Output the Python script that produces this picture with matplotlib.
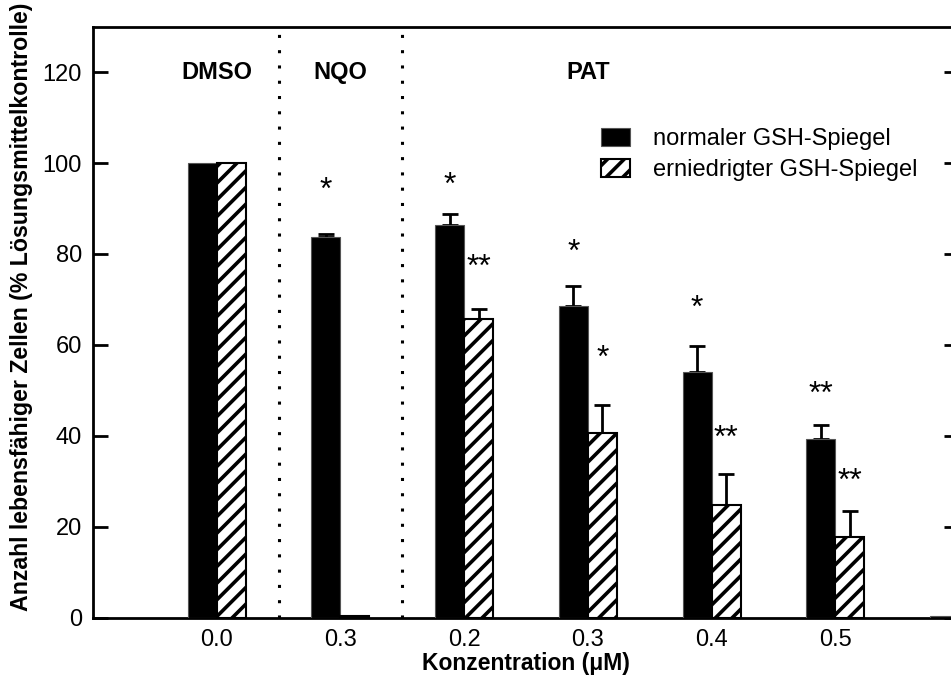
import numpy as np
import matplotlib
matplotlib.use("Agg")
import matplotlib.pyplot as plt

plt.rcParams['font.family'] = ['Liberation Sans', 'DejaVu Sans']
plt.rcParams['hatch.linewidth'] = 2.6

# data
tick_labels = ["0.0", "0.3", "0.2", "0.3", "0.4", "0.5"]
groups = ["DMSO", "NQO", "PAT"]
group_pos = [0, 1, 3]

normal = [100, 83.7, 86.3, 68.6, 54.1, 39.4, 0.4]
normal_err = [0, 0.7, 2.6, 4.3, 5.6, 3.0, 0]
lowered = [100, 0.4, 65.6, 40.7, 24.8, 17.8]
lowered_err = [0, 0, 2.2, 6.0, 6.9, 5.7]

normal_stars = ["", "*", "*", "*", "*", "**", ""]
normal_star_y = [0, 95, 96.2, 81.5, 69.2, 50.2, 0]
lowered_stars = ["", "", "**", "*", "**", "**"]
lowered_star_y = [0, 0, 78.2, 58.2, 40.5, 31.1]

fig = plt.figure(figsize=(9.51, 6.75), dpi=100)
ax = fig.add_axes([0.0978, 0.0849, 0.9106, 0.8756])

w = 0.234
xn = np.arange(len(normal))
xl = np.arange(len(lowered))

ax.bar(xn - w / 2, normal, w, color='black', edgecolor='#555555', linewidth=0.8,
       label='normaler GSH-Spiegel', zorder=3)
ax.bar(xl + w / 2, lowered, w, color='white', edgecolor='black', hatch='//',
       linewidth=1.5, label='erniedrigter GSH-Spiegel', zorder=3)

# upper error bars only
en = [i for i in range(len(normal)) if normal_err[i] > 0]
ax.errorbar(xn[en] - w / 2, np.array(normal)[en],
            yerr=[np.zeros(len(en)), np.array(normal_err)[en]],
            fmt='none', ecolor='black', elinewidth=2, capsize=6, capthick=2, zorder=2)
el = [i for i in range(len(lowered)) if lowered_err[i] > 0]
ax.errorbar(xl[el] + w / 2, np.array(lowered)[el],
            yerr=[np.zeros(len(el)), np.array(lowered_err)[el]],
            fmt='none', ecolor='black', elinewidth=2, capsize=6, capthick=2, zorder=2)

for i, s in enumerate(normal_stars):
    if s:
        ax.text(xn[i] - w / 2, normal_star_y[i] - 1.2, s, ha='center', va='center', fontsize=23)
for i, s in enumerate(lowered_stars):
    if s:
        ax.text(xl[i] + w / 2, lowered_star_y[i] - 1.2, s, ha='center', va='center', fontsize=23)

for xv in [0.5, 1.5]:
    ax.axvline(xv, color='black', linewidth=2.2, linestyle=(0, (1, 4)), zorder=1)

for g, p in zip(groups, group_pos):
    ax.text(p, 120, g, ha='center', va='center', fontsize=17, fontweight='bold')

ax.set_xlim(-1, 6)
ax.set_ylim(0, 130)
ax.set_xticks(range(len(tick_labels)))
ax.set_xticklabels(tick_labels, fontsize=17)
ax.set_yticks(range(0, 121, 20))
ax.tick_params(axis='y', direction='in', length=11, width=2, labelsize=17, pad=8,
               right=True)
ax.tick_params(axis='x', length=0, pad=8)

for sp in ax.spines.values():
    sp.set_linewidth(2)

ax.set_xlabel('Konzentration (μM)', fontsize=16.5, fontweight='bold', labelpad=1)
ax.set_ylabel('Anzahl lebensfähiger Zellen (% Lösungsmittelkontrolle)', fontsize=16.7,
              fontweight='bold')
ax.yaxis.set_label_coords(-0.069, 0.526)

ax.legend(loc='upper left', bbox_to_anchor=(0.576, 0.845), frameon=False, fontsize=17,
          handlelength=1.2, handleheight=0.8, handletextpad=1.0, labelspacing=0.38,
          borderaxespad=0)

fig.savefig('out.png', dpi=100)
